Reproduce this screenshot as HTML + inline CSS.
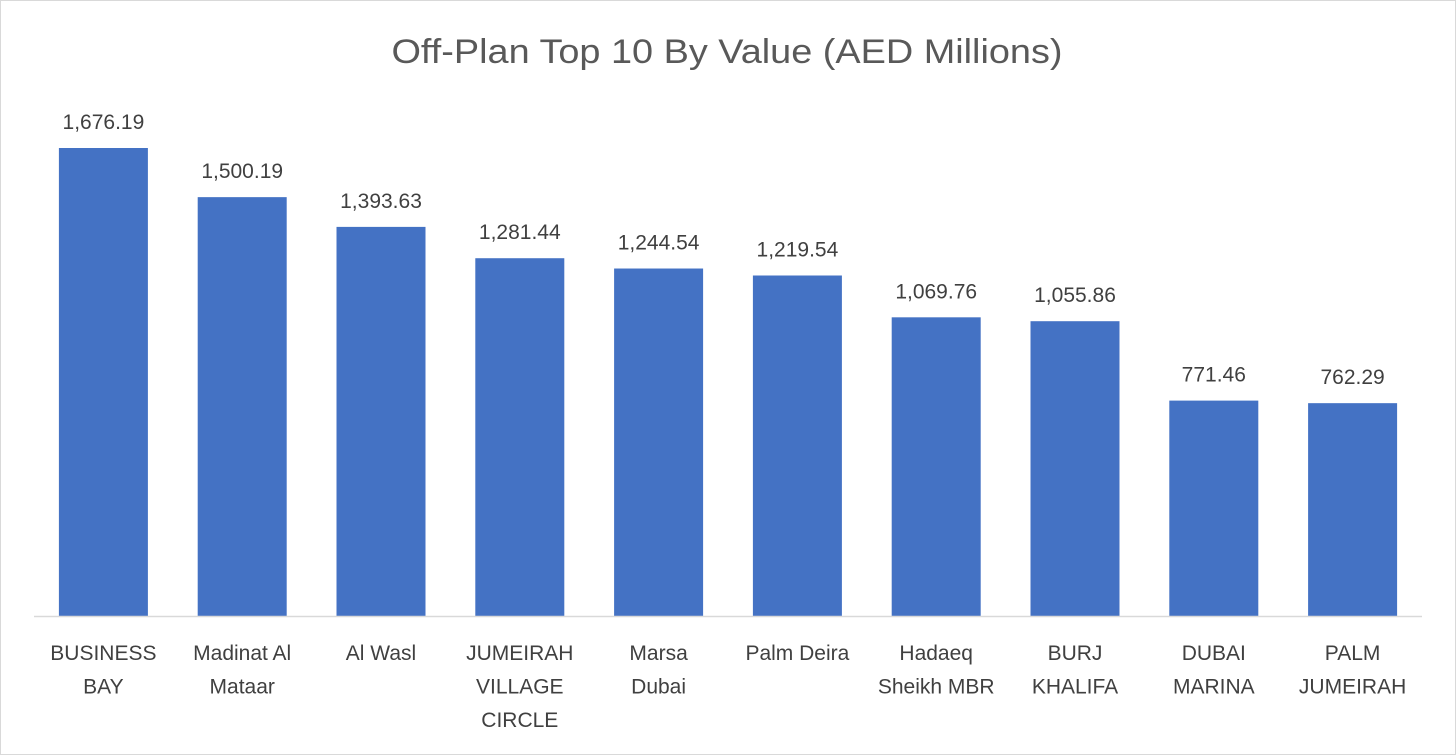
<!DOCTYPE html>
<html><head><meta charset="utf-8"><style>
html,body{margin:0;padding:0;background:#fff;}
svg{display:block;font-family:"Liberation Sans",Arial,sans-serif;}
</style></head><body>
<svg id="chart" width="1456" height="755" viewBox="0 0 1456 755">
<rect x="0.5" y="0.5" width="1455" height="754" fill="#fff" stroke="#d9d9d9"/>
<text x="727" y="63" text-anchor="middle" font-size="34" fill="#595959" textLength="671" lengthAdjust="spacingAndGlyphs">Off-Plan Top 10 By Value (AED Millions)</text>
<g id="bars"></g>
<line x1="34" y1="616.5" x2="1422" y2="616.5" stroke="#d9d9d9" stroke-width="1.5"/>
</svg>
<script>
const categories = [["BUSINESS","BAY"],["Madinat Al","Mataar"],["Al Wasl"],["JUMEIRAH","VILLAGE","CIRCLE"],["Marsa","Dubai"],["Palm Deira"],["Hadaeq","Sheikh MBR"],["BURJ","KHALIFA"],["DUBAI","MARINA"],["PALM","JUMEIRAH"]];
const values = [1676.19,1500.19,1393.63,1281.44,1244.54,1219.54,1069.76,1055.86,771.46,762.29];
const valueLabels = ["1,676.19","1,500.19","1,393.63","1,281.44","1,244.54","1,219.54","1,069.76","1,055.86","771.46","762.29"];

const NS="http://www.w3.org/2000/svg";
const plotL=34, plotR=1422, baseY=616, yMax=1676.19, pxTop=148;
const slot=(plotR-plotL)/categories.length, barW=89;
const y=v=>baseY-(v/yMax)*(baseY-pxTop);
const xc=i=>plotL+slot*(i+0.5);
const g=document.getElementById('bars');
values.forEach((v,i)=>{
  const r=document.createElementNS(NS,'rect');
  
  
  r.setAttribute('x',xc(i)-barW/2);r.setAttribute('y',y(v));
  r.setAttribute('width',barW);r.setAttribute('height',baseY-y(v));
  r.setAttribute('fill','#4472c4');
  g.appendChild(r);
  const t=document.createElementNS(NS,'text');
  
  
  t.setAttribute('x',xc(i));t.setAttribute('y',y(v)-19);
  t.setAttribute('text-anchor','middle');t.setAttribute('font-size','21');t.setAttribute('fill','#404040');
  t.textContent=valueLabels[i];
  g.appendChild(t);
  categories[i].forEach((line,j)=>{
    const c=document.createElementNS(NS,'text');
    
    
    c.setAttribute('x',xc(i));c.setAttribute('y',660+j*33.5);
    c.setAttribute('text-anchor','middle');c.setAttribute('font-size','21');c.setAttribute('fill','#404040');
    c.textContent=line;
    g.appendChild(c);
  });
});
</script>
</body></html>
